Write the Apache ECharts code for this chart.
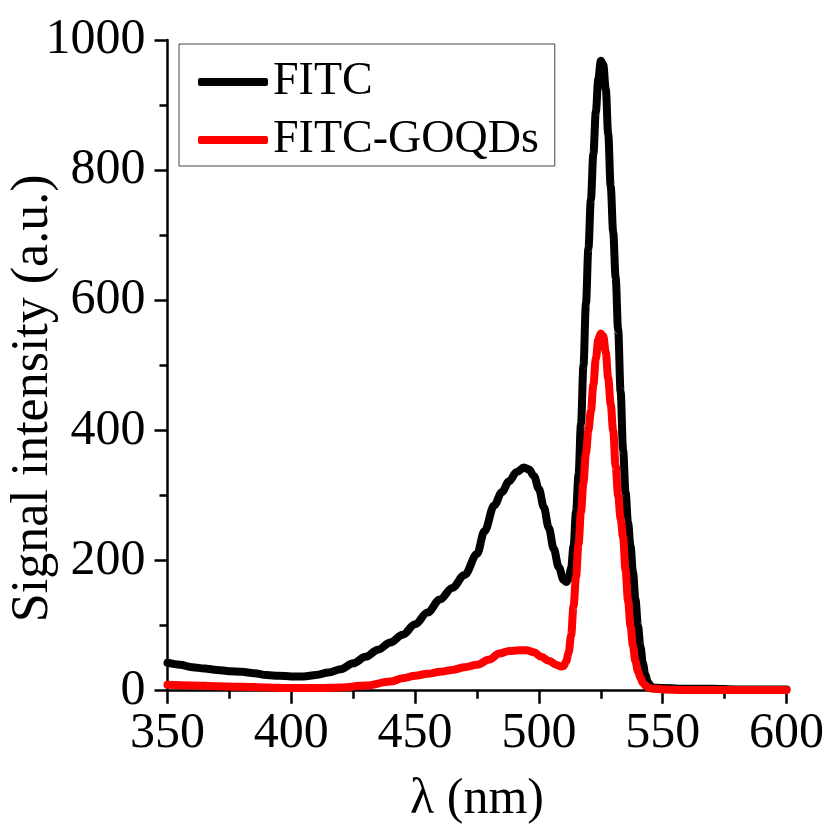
<!DOCTYPE html>
<html>
<head>
<meta charset="utf-8">
<script src="https://cdn.jsdelivr.net/npm/echarts@6/dist/echarts.min.js"></script>
<style>
  html, body { margin: 0; padding: 0; background: #fff; }
  #chart { width: 829px; height: 827px; }
</style>
</head>
<body>
<div id="chart"></div>
<script>
// Emission spectra (wavelength in nm, intensity in a.u.)
const fitcWavelength = [350, 355, 360, 365, 370, 375, 380, 385, 390, 395, 400, 405, 410, 415, 420, 425, 430, 435, 440, 445, 450, 455, 460, 465, 470, 475, 478, 482, 485, 488, 491, 494, 496, 498, 500, 502, 504, 506, 508, 510, 511, 512, 513, 514, 515, 516, 517, 518, 519, 520, 521, 522, 523, 524, 525, 526, 527, 528, 529, 530, 531, 532, 533, 534, 535, 536, 537, 538, 539, 540, 541, 542, 543, 544, 545, 546, 550, 560, 570, 580, 590, 600];
const fitcIntensity = [43, 40, 36, 34, 32, 30, 29, 27, 24, 23, 22, 22, 24, 28, 33, 42, 52, 63, 74, 86, 102, 120, 140, 158, 178, 210, 245, 285, 305, 322, 336, 343, 340, 330, 310, 282, 250, 218, 190, 170, 167, 172, 188, 222, 275, 332, 410, 500, 595, 680, 755, 825, 890, 940, 968, 962, 925, 855, 775, 705, 635, 555, 460, 370, 305, 258, 222, 182, 140, 100, 68, 42, 24, 13, 8, 5, 4, 3, 3, 2, 2, 2];

const goqdWavelength = [350, 360, 370, 380, 390, 400, 410, 420, 430, 440, 445, 450, 455, 460, 465, 470, 475, 480, 484, 488, 492, 495, 498, 501, 504, 507, 509, 510, 511, 512, 513, 514, 515, 516, 517, 518, 519, 520, 521, 522, 523, 524, 525, 526, 527, 528, 529, 530, 531, 532, 533, 534, 535, 536, 537, 538, 539, 540, 541, 542, 543, 544, 546, 550, 560, 580, 600];
const goqdIntensity = [9, 8, 7, 6, 5, 4, 4, 5, 8, 14, 19, 23, 26, 29, 32, 36, 40, 48, 57, 61, 62, 62, 59, 52, 46, 40, 37, 38, 45, 58, 85, 130, 175, 225, 275, 320, 365, 400, 430, 470, 510, 540, 549, 545, 520, 480, 440, 400, 345, 300, 265, 236, 185, 138, 100, 68, 45, 30, 20, 12, 8, 5, 3, 2, 1, 1, 1];

const seriesNames = ['FITC', 'FITC-GOQDs'];
const seriesColors = ['#000000', '#ff0000'];

function pairs(xs, ys) {
  return xs.map((x, i) => [x, ys[i]]);
}

const serif = '"Liberation Serif", "Times New Roman", serif';
const chart = echarts.init(document.getElementById('chart'), null, { renderer: 'canvas' });

const axisCommon = {
  nameMoveOverlap: false,
  axisLine: { show: true, onZero: false, lineStyle: { color: '#000', width: 2.5 } },
  axisTick: { show: true, inside: false, length: 13, lineStyle: { color: '#000', width: 2.5 } },
  minorTick: { show: true, splitNumber: 2, length: 8, lineStyle: { color: '#000', width: 2.5 } },
  splitLine: { show: false },
  minorSplitLine: { show: false }
};

chart.setOption({
  animation: false,
  backgroundColor: '#ffffff',
  grid: { left: 167.5, right: 42.5, top: 40, bottom: 136.3, containLabel: false, outerBoundsMode: 'none' },
  legend: {
    show: true,
    left: 179,
    top: 44,
    orient: 'vertical',
    itemWidth: 70,
    itemHeight: 8,
    itemGap: 12,
    padding: [15, 16, 3, 19],
    borderColor: '#444',
    borderWidth: 1,
    backgroundColor: '#fff',
    textStyle: { fontFamily: serif, fontSize: 46, color: '#000', padding: [0, 0, 0, 0] },
    data: seriesNames.map((n, i) => ({ name: n, icon: 'roundRect', itemStyle: { color: seriesColors[i] } }))
  },
  xAxis: Object.assign({
    type: 'value',
    min: 350,
    max: 600,
    interval: 50,
    name: 'λ (nm)',
    nameLocation: 'middle',
    nameGap: 84,
    nameTextStyle: { fontFamily: serif, fontSize: 50, color: '#000' },
    axisLabel: { fontFamily: serif, fontSize: 50, color: '#000', margin: 18, formatter: v => String(v) }
  }, axisCommon),
  yAxis: Object.assign({
    type: 'value',
    min: 0,
    max: 1000,
    interval: 200,
    name: 'Signal intensity (a.u.)',
    nameLocation: 'middle',
    nameGap: 108,
    nameTextStyle: { fontFamily: serif, fontSize: 52, color: '#000', padding: [0, 66, 0, 0] },
    axisLabel: { fontFamily: serif, fontSize: 50, color: '#000', margin: 22, formatter: v => String(v) }
  }, axisCommon),
  series: [
    {
      name: seriesNames[0],
      type: 'line',
      data: pairs(fitcWavelength, fitcIntensity),
      showSymbol: false,
      symbol: 'none',
      smooth: 0.35,
      smoothMonotone: 'x',
      lineStyle: { color: seriesColors[0], width: 8, cap: 'round', join: 'round' },
      itemStyle: { color: seriesColors[0] },
      z: 2
    },
    {
      name: seriesNames[1],
      type: 'line',
      data: pairs(goqdWavelength, goqdIntensity),
      showSymbol: false,
      symbol: 'none',
      smooth: 0.35,
      smoothMonotone: 'x',
      lineStyle: { color: seriesColors[1], width: 8, cap: 'round', join: 'round' },
      itemStyle: { color: seriesColors[1] },
      z: 3
    }
  ]
});
</script>
</body>
</html>
